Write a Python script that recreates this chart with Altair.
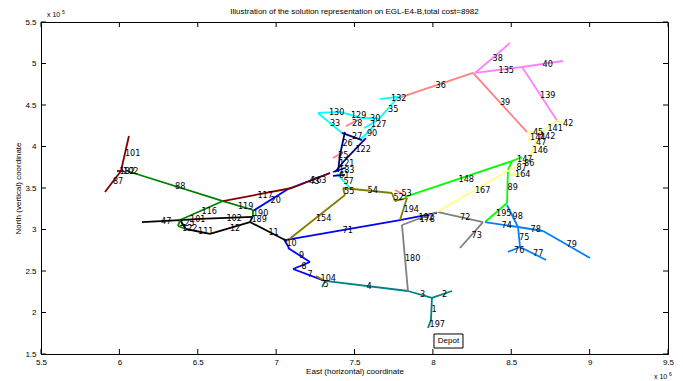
import altair as alt
import pandas as pd

TITLE = "Illustration of the solution representation on EGL-E4-B,total cost=8982"
X_TITLE = "East (horizontal) coordinate"
Y_TITLE = "North (vertical) coordinate"

x_ticks = [5.5, 6.0, 6.5, 7.0, 7.5, 8.0, 8.5, 9.0, 9.5]
y_ticks = [1.5, 2.0, 2.5, 3.0, 3.5, 4.0, 4.5, 5.0, 5.5]

# each edge: (x_start [x1e6], y_start [x1e5], x_end, y_end, edge id)
route_teal = [
    (7.969, 1.813, 7.988, 1.910, "197"),
    (7.988, 1.910, 7.994, 2.175, "1"),
    (7.994, 2.175, 8.122, 2.259, "2"),
    (7.841, 2.259, 7.994, 2.175, "3"),
    (7.312, 2.380, 7.841, 2.259, "4"),
    (7.293, 2.307, 7.312, 2.380, "5"),
]
route_blue = [
    (7.050, 2.886, 7.082, 2.777, "10"),
    (7.076, 2.777, 7.216, 2.608, "9"),
    (7.216, 2.608, 7.108, 2.524, "8"),
    (7.108, 2.524, 7.293, 2.392, "7"),
    (7.057, 2.873, 7.790, 3.114, "71"),
    (7.790, 3.114, 8.026, 3.199, "192"),
    (6.852, 3.223, 7.076, 3.488, "20"),
    (7.076, 3.488, 7.344, 3.681, "43"),
]
route_black = [
    (6.144, 3.090, 6.387, 3.114, "47"),
    (6.387, 3.114, 6.514, 3.127, "101"),
    (6.514, 3.127, 6.852, 3.151, "102"),
    (6.852, 3.163, 6.833, 3.090, "189"),
    (6.387, 3.114, 6.425, 3.006, ""),
    (6.425, 3.006, 6.578, 2.946, "111"),
    (6.578, 2.946, 6.833, 3.090, "12"),
    (6.833, 3.090, 7.069, 2.861, "11"),
]
route_green = [
    (6.049, 3.705, 6.661, 3.343, "88"),
    (6.661, 3.343, 6.852, 3.235, "119"),
    (6.852, 3.235, 6.852, 3.151, "190"),
    (6.661, 3.343, 6.387, 3.114, "116"),
    (6.387, 3.114, 6.374, 3.042, "125"),
    (6.374, 3.042, 6.425, 3.006, "122"),
]
route_maroon = [
    (6.061, 4.127, 6.010, 3.705, "101"),
    (6.010, 3.705, 5.908, 3.452, "87"),
    (5.985, 3.705, 6.017, 3.705, "182"),
    (6.010, 3.717, 6.036, 3.693, "102"),
    (6.661, 3.343, 7.101, 3.500, "117"),
    (7.101, 3.500, 7.344, 3.681, "163"),
]
route_olive = [
    (7.254, 2.440, 7.312, 2.380, "104"),
    (7.069, 2.861, 7.439, 3.416, "154"),
    (7.439, 3.416, 7.427, 3.500, "55"),
    (7.427, 3.500, 7.739, 3.440, "54"),
    (7.739, 3.440, 7.758, 3.343, "52"),
    (7.758, 3.343, 7.835, 3.380, ""),
    (7.835, 3.380, 7.790, 3.114, "194"),
]
route_salmon = [
    (7.758, 3.476, 7.841, 3.392, "53"),
    (7.778, 4.584, 8.256, 4.886, "36"),
    (8.256, 4.886, 8.600, 4.175, "39"),
    (7.446, 4.247, 7.522, 4.319, "28"),
    (7.363, 3.861, 7.427, 3.934, "25"),
]
route_violet = [
    (8.269, 4.886, 8.492, 5.247, "38"),
    (8.269, 4.886, 8.569, 4.958, "135"),
    (8.569, 4.958, 8.830, 5.030, "40"),
    (8.569, 4.958, 8.798, 4.295, "139"),
    (8.683, 4.078, 8.683, 4.175, "142"),
]
route_cyan = [
    (7.267, 4.404, 7.407, 4.416, "130"),
    (7.267, 4.404, 7.420, 4.163, "33"),
    (7.407, 4.416, 7.548, 4.343, "129"),
    (7.548, 4.343, 7.650, 4.343, "30"),
    (7.650, 4.319, 7.561, 4.223, "127"),
    (7.624, 4.247, 7.535, 4.078, "90"),
    (7.778, 4.596, 7.650, 4.319, "35"),
    (7.663, 4.572, 7.803, 4.608, "132"),
    (7.388, 3.669, 7.471, 3.500, "57"),
]
route_navy = [
    (7.439, 4.175, 7.407, 3.898, "26"),
    (7.407, 3.898, 7.395, 3.693, "121"),
    (7.420, 4.163, 7.548, 4.078, "27"),
    (7.573, 4.102, 7.439, 3.837, "122"),
    (7.439, 3.837, 7.376, 3.693, ""),
    (7.363, 3.693, 7.439, 3.741, "183"),
    (7.363, 3.645, 7.439, 3.657, "61"),
]
route_grey = [
    (7.803, 3.054, 8.026, 3.211, "178"),
    (8.026, 3.211, 8.320, 3.090, "72"),
    (8.320, 3.090, 8.173, 2.777, "73"),
    (7.803, 3.054, 7.841, 2.259, "180"),
]
route_lime = [
    (7.822, 3.392, 8.505, 3.825, "148"),
    (8.505, 3.825, 8.569, 3.873, "147"),
    (8.505, 3.825, 8.479, 3.717, ""),
    (8.479, 3.717, 8.473, 3.319, "89"),
    (8.473, 3.319, 8.333, 3.090, "195"),
]
route_yellow = [
    (8.026, 3.211, 8.511, 3.741, "167"),
    (8.511, 3.741, 8.556, 3.777, "87"),
    (8.556, 3.777, 8.607, 3.837, "86"),
    (8.607, 3.837, 8.664, 4.078, "146"),
    (8.600, 4.163, 8.677, 4.187, "45"),
    (8.607, 4.066, 8.632, 4.151, "144"),
    (8.639, 4.006, 8.677, 4.102, "47"),
    (8.664, 4.127, 8.798, 4.319, "141"),
    (8.798, 4.319, 8.862, 4.247, "42"),
    (8.486, 3.657, 8.562, 3.669, "164"),
]
route_skyblue = [
    (8.473, 3.295, 8.543, 3.030, "98"),
    (8.333, 3.090, 8.543, 3.030, "74"),
    (8.543, 3.030, 8.703, 2.982, "78"),
    (8.703, 2.982, 9.002, 2.657, "79"),
    (8.543, 3.030, 8.556, 2.789, "75"),
    (8.479, 2.729, 8.556, 2.789, "76"),
    (8.556, 2.789, 8.722, 2.633, "77"),
]

route_names = ["teal", "blue", "black", "green", "maroon", "olive", "salmon", "violet",
               "cyan", "navy", "grey", "lime", "yellow", "skyblue"]
route_colors = ["#008080", "#0000ff", "#000000", "#008000", "#800000", "#808000", "#ff8080",
                "#ff80ff", "#00ffff", "#000080", "#808080", "#00ff00", "#ffff80", "#0080ff"]
route_edges = [route_teal, route_blue, route_black, route_green, route_maroon, route_olive,
               route_salmon, route_violet, route_cyan, route_navy, route_grey, route_lime,
               route_yellow, route_skyblue]

depot_box = [8.007, 8.192, 1.572, 1.741]  # x1, x2, y1, y2
depot_text = "Depot"

rows = []
for name, edges in zip(route_names, route_edges):
    for x1, y1, x2, y2, lab in edges:
        rows.append(dict(route=name, x=x1, y=y1, x2=x2, y2=y2, label=lab,
                         mx=(x1 + x2) / 2, my=(y1 + y2) / 2))
df = pd.DataFrame(rows)

W, H = 627, 332
FONT = "Liberation Sans"
LFONT = "Liberation Sans Narrow, DejaVu Sans Condensed, Liberation Sans"

xs = alt.Scale(domain=[5.5, 9.5], nice=False, zero=False)
ys = alt.Scale(domain=[1.5, 5.5], nice=False, zero=False)
cs = alt.Scale(domain=route_names, range=route_colors)

x_axis = alt.Axis(values=x_ticks, format="~g", tickSize=0, labelPadding=4, labelFontSize=8,
                  labelFont=FONT, labelColor="black", labelFlush=False, labelOverlap=False,
                  grid=False, domainColor="black", title=X_TITLE, titleFont=FONT,
                  titleFontSize=8, titleFontWeight="normal", titleColor="black",
                  titleX=W / 2, titleY=17, titleBaseline="middle", titleAlign="center")
y_axis = alt.Axis(values=y_ticks, format="~g", tickSize=0, labelPadding=5, labelFontSize=8,
                  labelFont=FONT, labelColor="black", labelFlush=False, labelOverlap=False,
                  grid=False, domainColor="black", title=Y_TITLE, titleFont=FONT,
                  titleFontSize=8, titleFontWeight="normal", titleColor="black",
                  titleX=-23, titleY=H / 2, titleAngle=270, titleBaseline="middle",
                  titleAlign="center")


def X(field):
    return alt.X(field, scale=xs, axis=x_axis)


def Y(field):
    return alt.Y(field, scale=ys, axis=y_axis)


base = alt.Chart(df)
segs = base.mark_rule(strokeWidth=1.8).encode(
    x=X("x:Q"), y=Y("y:Q"), x2="x2:Q", y2="y2:Q",
    color=alt.Color("route:N", scale=cs, legend=None),
)
labels = base.mark_text(align="left", baseline="middle", fontSize=9, font=LFONT,
                        color="black").encode(
    x=X("mx:Q"), y=Y("my:Q"), text="label:N",
)

xt = pd.DataFrame({"v": x_ticks})
yt = pd.DataFrame({"v": y_ticks})
tick_b = alt.Chart(xt).mark_rule(color="black", strokeWidth=1).encode(
    x=X("v:Q"), y=alt.value(H), y2=alt.value(H - 5))
tick_t = alt.Chart(xt).mark_rule(color="black", strokeWidth=1).encode(
    x=X("v:Q"), y=alt.value(0), y2=alt.value(5))
tick_l = alt.Chart(yt).mark_rule(color="black", strokeWidth=1).encode(
    y=Y("v:Q"), x=alt.value(0), x2=alt.value(5))
tick_r = alt.Chart(yt).mark_rule(color="black", strokeWidth=1).encode(
    y=Y("v:Q"), x=alt.value(W), x2=alt.value(W - 5))

dbox = pd.DataFrame({"x1": [depot_box[0]], "x2": [depot_box[1]], "y1": [depot_box[2]],
                     "y2": [depot_box[3]], "t": [depot_text]})
depot_rect = alt.Chart(dbox).mark_rect(fill="white", stroke="black", strokeWidth=1).encode(
    x=X("x1:Q"), x2="x2:Q", y=Y("y1:Q"), y2="y2:Q")
depot_lbl = alt.Chart(dbox).transform_calculate(
    cx="(datum.x1 + datum.x2) / 2", cy="(datum.y1 + datum.y2) / 2"
).mark_text(fontSize=8, font=FONT, color="black").encode(
    x=X("cx:Q"), y=Y("cy:Q"), text="t:N")

ann = pd.DataFrame({"t": [TITLE]})
title_txt = alt.Chart(ann).mark_text(fontSize=8, font=FONT, color="black",
                                     baseline="middle").encode(
    x=alt.value(W / 2), y=alt.value(-10), text="t:N")
exp5 = alt.Chart(pd.DataFrame({"t": ["x 10"]})).mark_text(
    fontSize=7, font=FONT, color="black", align="left", baseline="middle").encode(
    x=alt.value(6), y=alt.value(-7), text="t:N")
exp5s = alt.Chart(pd.DataFrame({"t": ["5"]})).mark_text(
    fontSize=5, font=FONT, color="black", align="left", baseline="middle").encode(
    x=alt.value(21), y=alt.value(-10), text="t:N")
exp6 = alt.Chart(pd.DataFrame({"t": ["x 10"]})).mark_text(
    fontSize=7, font=FONT, color="black", align="left", baseline="middle").encode(
    x=alt.value(W - 14), y=alt.value(H + 23), text="t:N")
exp6s = alt.Chart(pd.DataFrame({"t": ["6"]})).mark_text(
    fontSize=5, font=FONT, color="black", align="left", baseline="middle").encode(
    x=alt.value(W + 1), y=alt.value(H + 20), text="t:N")

chart = alt.layer(
    segs, labels, tick_b, tick_t, tick_l, tick_r, depot_rect, depot_lbl,
    title_txt, exp5, exp5s, exp6, exp6s
).properties(
    width=W, height=H,
    autosize=alt.AutoSizeParams(type="none"),
    padding={"left": 33, "top": 14, "right": 7, "bottom": 27},
    background="white",
).configure_view(stroke="black", strokeWidth=1)

chart.save("out.html", embed_options={"renderer": "svg", "actions": False})
